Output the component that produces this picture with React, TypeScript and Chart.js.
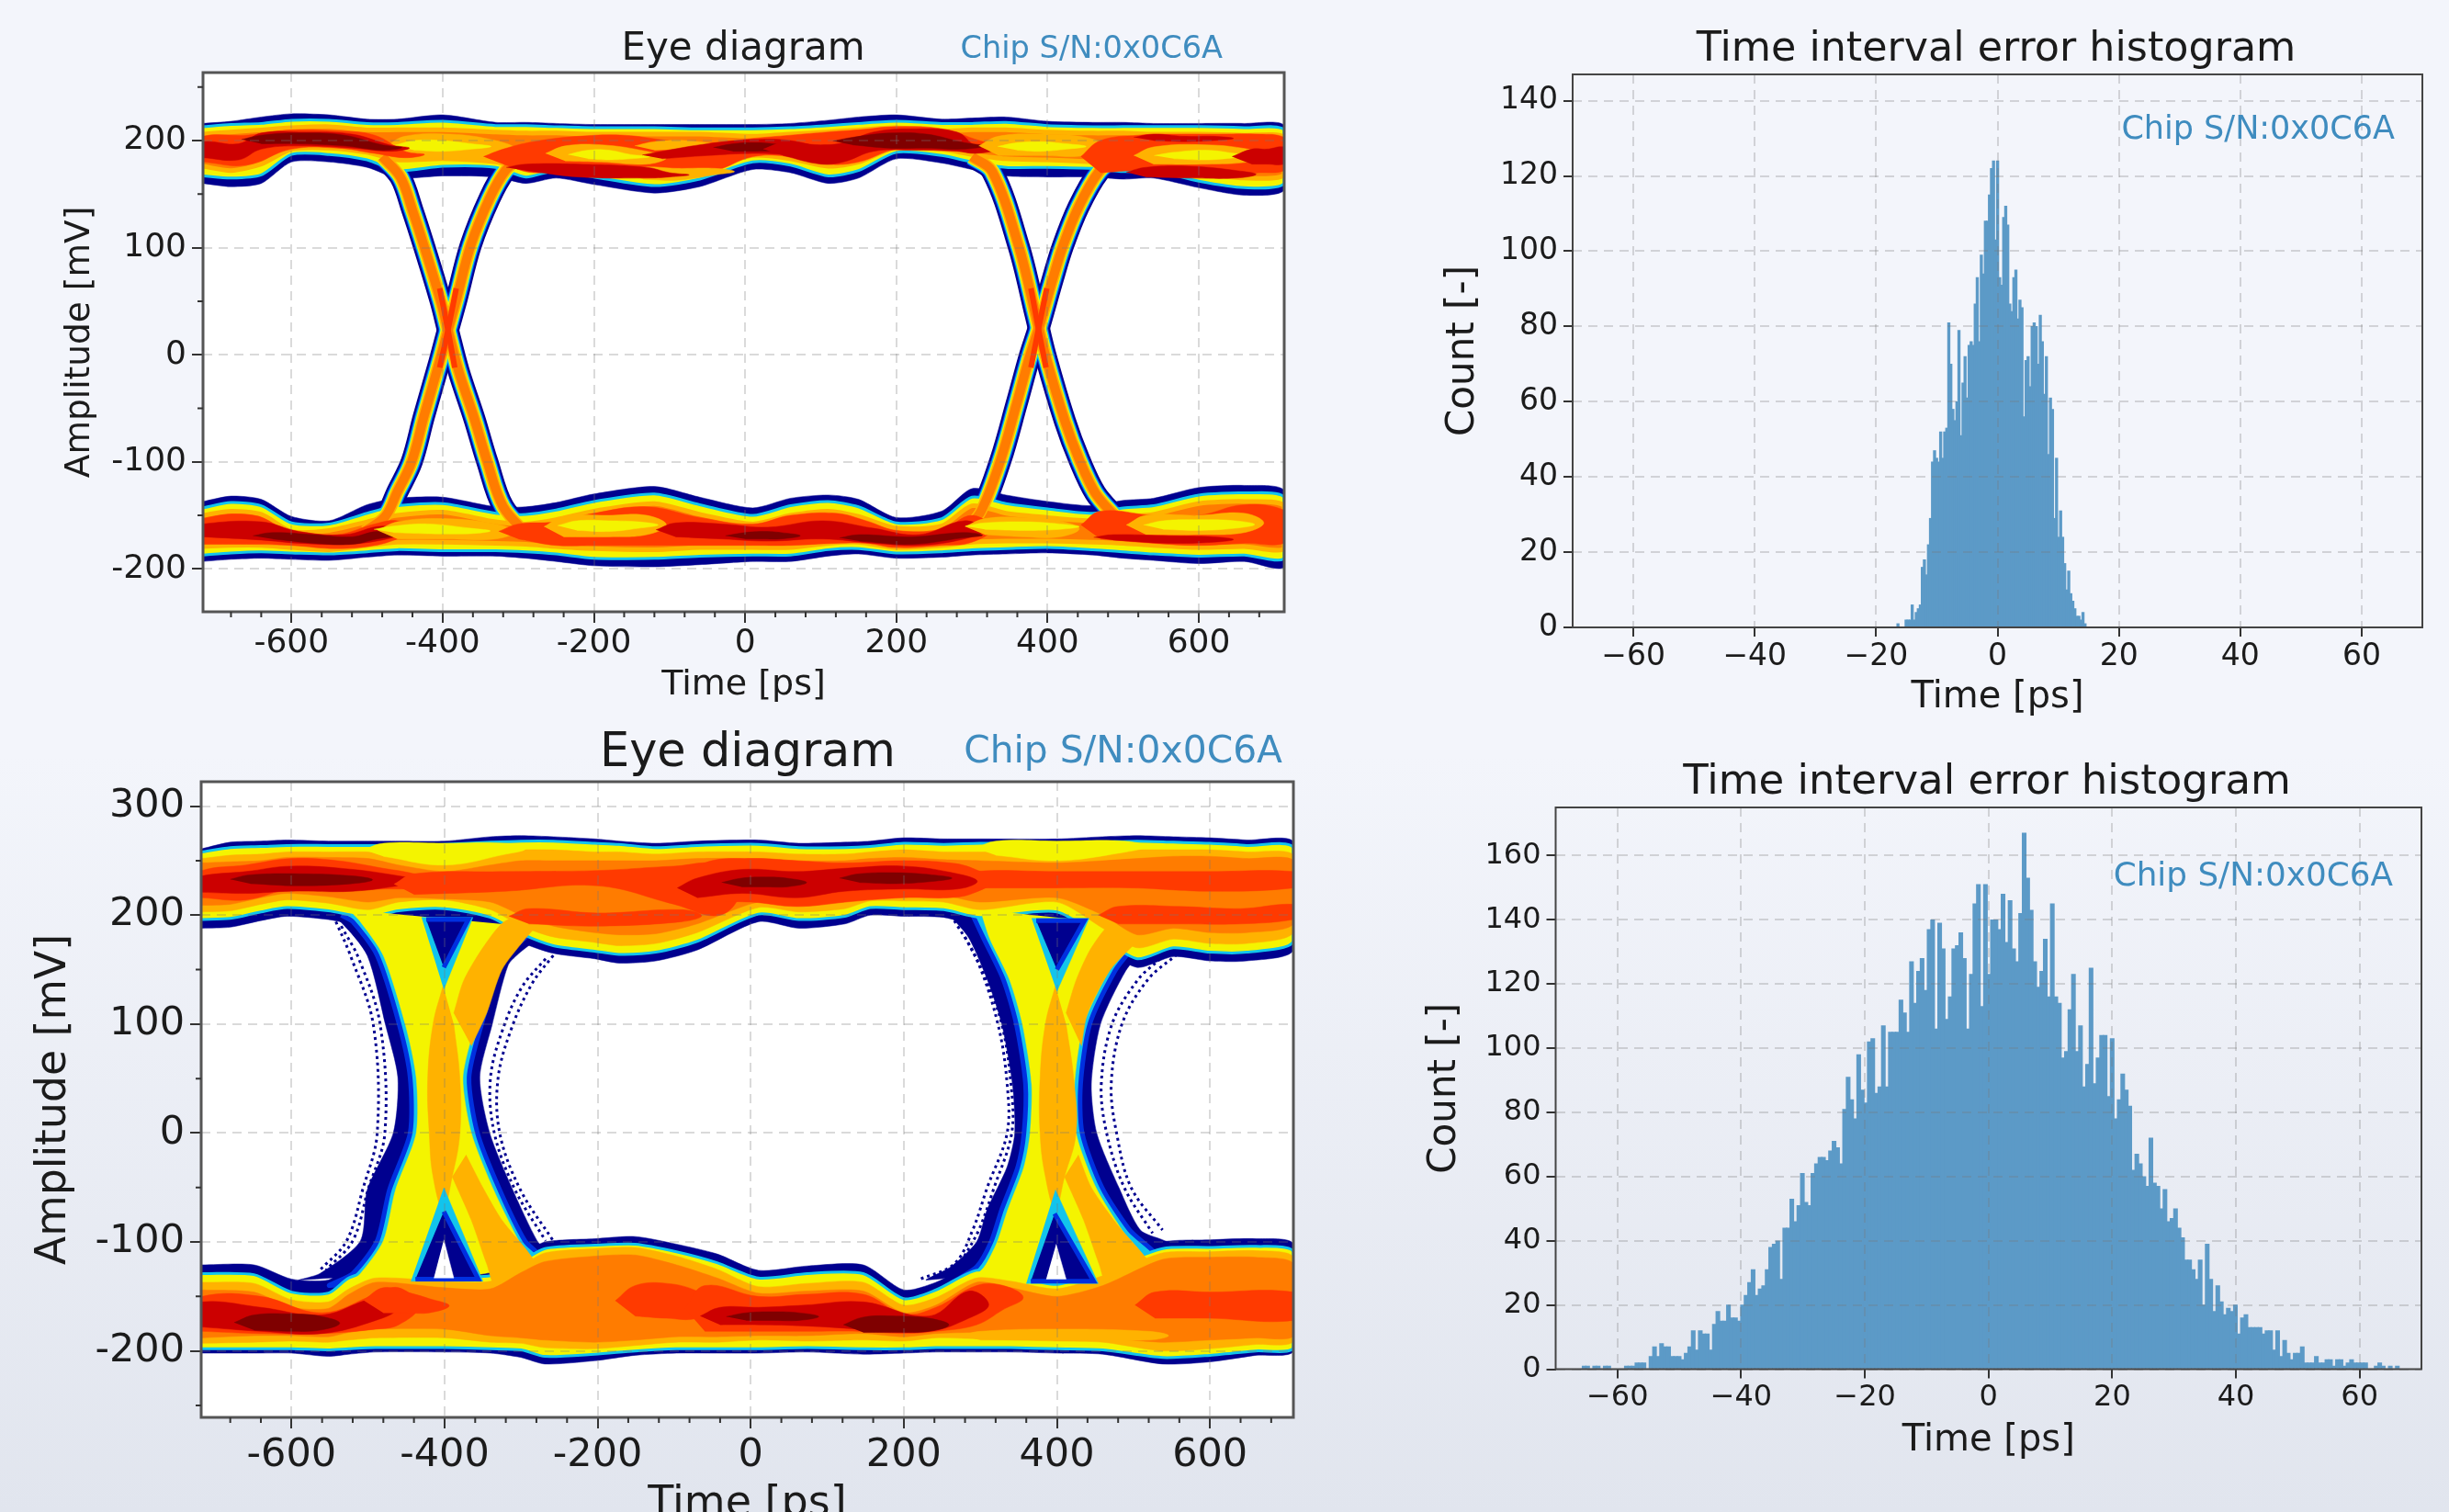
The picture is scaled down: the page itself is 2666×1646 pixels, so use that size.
import React, { useEffect, useRef } from "react";
import { Chart, registerables } from "chart.js";
Chart.register(...registerables);

const FONT = "'DejaVu Sans'";
const CHIP = "Chip S/N:0x0C6A";
const EYE_TITLE = "Eye diagram";
const HIST_TITLE = "Time interval error histogram";

const eyeXTicks = [-600, -400, -200, 0, 200, 400, 600];
const eye1YTicks = [-200, -100, 0, 100, 200];
const eye2YTicks = [-200, -100, 0, 100, 200, 300];
const hist1YTicks = [0, 20, 40, 60, 80, 100, 120, 140];
const hist2YTicks = [0, 20, 40, 60, 80, 100, 120, 140, 160];
const histXTicks = [-60, -40, -20, 0, 20, 40, 60];

const C: any = { navy: "#00008f", blue: "#0030e0", cyan: "#12c4ec", yellow: "#f4f400", amber: "#ffb200", orange: "#ff7c00", ro: "#ff3a00", red: "#cc0000", dark: "#7f0000", white: "#ffffff" };

// ---- Time interval error histograms (counts per bin)
const hist1Start = -16.4;
const hist1Width = 0.335;
const hist1Counts = [1,0,0,0,2,2,2,6,2,4,5,6,16,18,14,22,29,44,47,45,44,52,45,52,53,81,70,58,55,60,79,51,65,72,61,75,76,75,86,93,76,99,94,108,108,115,122,124,103,124,93,91,109,112,107,86,84,93,95,82,87,85,56,71,72,64,80,81,80,70,83,76,62,72,46,61,58,29,45,24,31,24,17,10,15,9,7,5,3,3,2,4,1];
const hist2Start = -65.4;
const hist2End = 66.1;
const hist2Counts = [1,1,0,1,1,0,1,1,0,0,0,0,1,1,1,2,2,2,0,4,7,4,8,7,7,4,4,4,3,5,7,12,6,12,11,11,6,14,18,15,15,20,16,16,15,20,23,27,31,23,25,26,31,38,39,40,28,44,44,53,46,51,61,52,51,61,64,66,66,65,68,71,69,64,81,91,84,78,98,87,83,102,103,86,88,107,88,105,105,105,115,111,105,127,114,124,128,118,137,140,106,139,131,109,116,131,132,136,128,106,123,145,151,113,151,123,140,140,137,148,133,146,131,127,142,167,153,143,127,119,124,134,116,145,116,114,97,99,112,123,99,107,88,95,125,89,97,104,104,85,103,78,84,92,87,82,62,67,64,60,57,72,58,57,50,56,46,47,50,44,41,34,34,31,28,34,20,39,28,18,26,21,17,19,18,20,11,16,17,13,13,13,13,11,12,12,6,12,4,9,5,3,5,5,7,2,2,2,4,2,2,3,3,1,3,3,1,2,3,2,2,2,2,0,0,1,2,1,0,1,0,1];

// ---- Eye 1: rail contours [mV] at the sampled times [ps]
const e1T = [-717,-680,-640,-600,-550,-500,-460,-400,-330,-290,-250,-200,-120,-60,10,60,110,150,200,260,300,345,400,460,500,540,600,660,713];
const e1TopNavyU = [216,218,222,225,224,220,220,224,217,217,216,215,215,215,215,216,219,222,224,220,221,222,218,217,217,216,216,216,214];
const e1TopNavyL = [160,157,160,180,180,175,165,167,166,160,165,159,151,157,173,170,160,165,183,179,173,167,166,166,164,165,156,149,154];
const e1TopYelU = [213,215,216,219,219,216,216,218,214,214,213,212,212,211,211,212,214,216,218,216,216,217,214,213,213,213,213,212,210];
const e1TopYelL = [167,165,168,187,187,182,172,176,175,166,172,166,158,164,180,177,167,172,189,186,180,175,175,174,171,172,162,156,160];
const e1TopOraU = [206,208,210,212,213,210,210,210,208,207,207,206,206,206,204,206,208,210,212,209,210,210,208,207,207,206,206,205,203];
const e1TopOraL = [176,172,178,192,193,189,182,183,180,174,178,174,167,172,186,183,176,180,194,192,187,183,182,180,178,178,170,165,168];
const e1BotNavyU = [-137,-132,-135,-151,-155,-140,-134,-133,-142,-142,-138,-130,-123,-133,-143,-134,-131,-135,-152,-146,-125,-131,-137,-141,-136,-134,-124,-122,-127];
const e1BotNavyL = [-193,-191,-190,-191,-192,-189,-187,-188,-188,-190,-193,-197,-198,-196,-193,-193,-188,-186,-190,-189,-187,-186,-185,-187,-190,-192,-195,-193,-198];
const e1BotYelU = [-143,-138,-141,-157,-158,-148,-141,-139,-148,-149,-145,-137,-130,-140,-150,-141,-137,-142,-157,-153,-133,-139,-144,-148,-143,-141,-131,-129,-133];
const e1BotYelL = [-187,-185,-184,-185,-186,-184,-182,-183,-183,-184,-186,-190,-190,-188,-187,-187,-182,-181,-185,-184,-182,-181,-180,-182,-184,-186,-188,-187,-190];
const e1BotOraU = [-150,-146,-149,-165,-164,-156,-150,-147,-156,-158,-154,-146,-139,-149,-158,-150,-146,-151,-162,-160,-141,-148,-152,-155,-151,-149,-139,-137,-141];
const e1BotOraL = [-179,-178,-178,-180,-182,-178,-175,-175,-176,-177,-179,-181,-182,-180,-180,-180,-176,-175,-180,-178,-175,-174,-174,-175,-176,-178,-180,-179,-181];

// Eye 1: centre lines [ps, mV] of the transition strands
const e1LeftFall = [[-480,185],[-456,166],[-440,135],[-424,100],[-403,51],[-393,23],[-379,-15],[-358,-60],[-341,-100],[-320,-142],[-285,-170]];
const e1LeftRise = [[-503,-165],[-476,-151],[-460,-128],[-441,-100],[-425,-58],[-404,-6],[-393,23],[-382,51],[-363,102],[-338,146],[-317,172],[-295,185]];
const e1RightFall = [[300,185],[327,171],[362,101],[384,38],[397,0],[423,-62],[442,-98],[463,-129],[487,-149],[510,-165]];
const e1RightRise = [[290,-165],[312,-146],[338,-98],[359,-46],[377,0],[388,24],[407,71],[420,101],[441,138],[468,171],[495,188]];
const e1CrossCores = [[[-404,62],[-393,23],[-384,-12]],[[-382,62],[-393,23],[-404,-12]],[[378,62],[388,24],[398,-12]],[[399,62],[388,24],[378,-12]]];

// Eye 1: density blobs: level, times, upper, lower
const e1Inner: any[] = [
 ["amber",[-450,-390,-330],[204,206,200],[184,184,184]],
 ["yellow",[-438,-400,-362],[200,200,197],[191,190,192]],
 ["ro",[-717,-660,-600,-540,-490,-450],[204,205,210,209,205,190],[180,177,192,193,188,184]],
 ["red",[-717,-670,-640,-590,-520,-470],[199,197,207,208,206,196],[184,182,192,195,193,190]],
 ["dark",[-640,-590,-530,-480],[205,207,205,196],[197,197,195,191]],
 ["ro",[-320,-280,-220,-160,-100,-40,10,60,110,150,200,260,310],[192,199,204,205,200,198,202,205,208,210,213,211,200],[178,170,174,167,170,172,185,185,178,180,192,193,190]],
 ["amber",[-238,-190,-130],[195,196,190],[181,180,178]],
 ["yellow",[-208,-180,-152],[191,191,187],[183,182,183]],
 ["amber",[-120,-80,-40],[199,200,197],[191,192,192]],
 ["amber",[-135,-90,-40],[175,174,174],[164,163,168]],
 ["red",[-290,-220,-130,-100],[178,178,175,170],[172,166,165,166]],
 ["red",[-110,-50,10,60,110],[190,197,201,200,192],[183,186,188,187,187]],
 ["dark",[-16,15,49],[197,198,196],[190,190,191]],
 ["red",[50,100,130,170,220,280,305],[198,196,198,208,211,208,195],[186,178,180,190,191,190,188]],
 ["dark",[142,190,240,290],[203,207,206,198],[196,193,193,192]],
 ["amber",[335,390,450],[204,206,203],[186,186,186]],
 ["yellow",[360,390,425],[198,199,197],[191,190,192]],
 ["ro",[470,520,570,620,680,713],[200,205,206,206,206,203],[170,172,170,168,170,172]],
 ["amber",[540,610,665],[194,196,192],[178,178,180]],
 ["yellow",[567,610,648],[189,191,188],[183,182,184]],
 ["red",[530,590,650],[175,176,172],[166,165,165]],
 ["red",[670,690,713],[192,192,194],[178,178,178]],
 ["red",[540,580,620],[206,204,204],[200,199,200]],
 ["ro",[-717,-650,-600,-540,-490,-460],[-153,-150,-165,-168,-158,-155],[-177,-177,-178,-181,-178,-172]],
 ["red",[-717,-640,-590,-530,-480],[-158,-156,-165,-168,-160],[-170,-173,-176,-177,-173]],
 ["dark",[-625,-570,-520,-487],[-166,-168,-170,-165],[-172,-176,-177,-172]],
 ["amber",[-460,-400,-330],[-156,-153,-158],[-172,-172,-172]],
 ["yellow",[-465,-420,-363],[-160,-158,-162],[-166,-167,-167]],
 ["ro",[-300,-250,-200,-130,-60,10,60,120,160,200,260,300],[-158,-156,-148,-142,-152,-158,-150,-148,-155,-164,-163,-150],[-172,-178,-178,-178,-178,-178,-178,-176,-176,-180,-178,-175]],
 ["amber",[-240,-180,-130],[-151,-150,-150],[-170,-170,-168]],
 ["yellow",[-222,-180,-141],[-155,-155,-156],[-164,-165,-162]],
 ["red",[-92,-30,30,103,170,230,290],[-157,-158,-161,-155,-162,-168,-155],[-170,-172,-174,-172,-176,-178,-172]],
 ["dark",[0,25,47],[-166,-165,-166],[-172,-172,-172]],
 ["dark",[151,220,288],[-168,-170,-166],[-174,-177,-171]],
 ["amber",[317,370,416],[-153,-152,-155],[-168,-170,-170]],
 ["yellow",[317,370,416],[-157,-156,-158],[-163,-164,-163]],
 ["ro",[470,540,600,660,713],[-146,-150,-150,-140,-145],[-172,-176,-178,-176,-176]],
 ["amber",[530,600,660],[-150,-150,-148],[-168,-168,-166]],
 ["yellow",[553,600,648],[-155,-154,-155],[-163,-164,-162]],
 ["red",[487,560,620],[-168,-169,-170],[-173,-176,-175]],
];

// ---- Eye 2: rail contours
const e2TopT = [-717,-680,-640,-606,-552,-500,-460,-400,-340,-300,-258,-204,-172,-124,-70,10,63,123,156,200,252,300,400,460,505,552,600,648,709];
const e2TopNavyU = [261,267,268,269,268,268,268,268,272,273,272,270,268,266,268,269,266,267,268,271,270,270,270,272,273,272,271,269,267];
const e2TopNavyL = [188,189,195,199,196,190,196,198,190,175,165,160,156,158,168,194,188,192,200,199,198,190,195,170,152,162,158,158,168];
const e2TopYelU = [258,262,263,264,264,264,264,265,267,268,268,266,265,262,264,265,262,262,263,266,265,266,266,267,268,267,266,264,262];
const e2TopYelL = [196,197,203,207,204,198,204,206,198,183,172,167,164,166,176,201,196,199,207,206,205,198,203,178,160,170,166,166,176];
const e2TopAmbU = [252,255,256,258,258,258,256,256,258,260,260,258,258,256,258,258,256,256,258,260,258,258,258,260,260,260,260,258,255];
const e2TopAmbL = [203,204,210,214,211,205,212,214,205,190,180,175,172,174,184,207,203,206,213,213,212,205,212,188,170,178,174,174,184];
const e2TopOraU = [248,249,250,253,253,252,246,240,246,250,250,250,250,250,252,252,250,250,252,253,251,250,248,250,252,254,254,252,250];
const e2TopOraL = [209,210,216,220,217,212,216,215,212,200,190,184,182,183,192,212,208,212,218,218,218,212,216,200,182,188,184,184,192];
const e2BotT = [-717,-649,-600,-552,-525,-490,-400,-340,-300,-269,-204,-151,-97,-44,10,74,147,200,242,295,340,400,460,538,600,660,709];
const e2BotNavyU = [-121,-121,-134,-135,-123,-120,-125,-125,-112,-100,-97,-95,-102,-111,-126,-122,-121,-144,-137,-120,-125,-133,-120,-100,-98,-97,-102];
const e2BotNavyL = [-202,-202,-202,-205,-203,-201,-201,-202,-206,-212,-209,-204,-202,-202,-202,-201,-203,-202,-201,-201,-201,-202,-203,-212,-210,-204,-200];
const e2BotYelU = [-129,-130,-146,-147,-133,-127,-131,-131,-118,-106,-103,-102,-109,-119,-133,-129,-129,-152,-144,-126,-131,-139,-126,-106,-105,-104,-109];
const e2BotYelL = [-198,-198,-198,-199,-198,-197,-197,-198,-199,-205,-203,-200,-198,-198,-198,-197,-198,-198,-197,-197,-197,-198,-199,-206,-204,-200,-197];
const e2BotAmbU = [-137,-138,-153,-155,-143,-133,-136,-136,-122,-110,-106,-105,-113,-125,-141,-138,-137,-158,-151,-133,-136,-143,-131,-110,-109,-108,-114];
const e2BotAmbL = [-193,-192,-191,-192,-190,-188,-188,-192,-193,-197,-198,-195,-192,-192,-190,-191,-190,-191,-188,-189,-190,-191,-192,-200,-198,-194,-191];
const e2BotOraU = [-144,-146,-160,-161,-148,-137,-142,-143,-128,-118,-113,-112,-121,-133,-147,-145,-145,-165,-158,-137,-142,-150,-140,-116,-114,-114,-120];
const e2BotOraL = [-188,-186,-186,-187,-183,-180,-180,-186,-188,-190,-192,-190,-187,-187,-186,-186,-184,-187,-184,-183,-184,-186,-188,-192,-190,-188,-186];

// Eye 2: hourglass contours at the two crossings
const e2RNavy = [[260,200],[285,179],[309,141],[328,100],[342,45],[345,0],[335,-31],[309,-70],[295,-100],[261,-123],[230,-135],[560,-105],[538,-98],[509,-89],[481,-50],[452,0],[445,45],[457,100],[490,149],[514,168],[540,180]];
const e2RCyan = [[290,200],[304,179],[330,141],[347,100],[359,45],[357,0],[349,-31],[328,-70],[314,-100],[295,-123],[260,-140],[530,-115],[495,-89],[459,-50],[433,0],[431,45],[443,100],[476,149],[497,168],[520,185]];
const e2RYellow = [[300,205],[312,179],[338,141],[355,100],[367,45],[365,0],[357,-31],[336,-70],[322,-100],[305,-123],[275,-145],[515,-120],[485,-89],[451,-50],[425,0],[423,45],[435,100],[468,149],[489,168],[510,190]];
const e2RAmber = [[398,135],[385,100],[378,50],[378,0],[385,-40],[398,-70],[410,-40],[425,0],[422,50],[412,100]];
const e2RAmberUp = [[412,110],[425,140],[445,170],[475,195],[530,200],[510,180],[470,150],[440,110],[432,80]];
const e2RAmberDown = [[410,-40],[435,-80],[455,-120],[470,-145],[540,-145],[520,-118],[480,-85],[445,-50],[428,-20]];
const e2LNavy = [[-555,200],[-536,194],[-501,163],[-477,99],[-461,51],[-467,0],[-501,-52],[-510,-99],[-563,-129],[-590,-135],[-260,-115],[-279,-99],[-311,-52],[-341,0],[-354,51],[-338,99],[-317,154],[-301,166],[-275,180]];
const e2LCyan = [[-535,200],[-520,194],[-488,163],[-459,99],[-445,51],[-445,0],[-472,-52],[-488,-99],[-520,-129],[-550,-140],[-275,-115],[-295,-99],[-328,-52],[-357,0],[-368,51],[-352,99],[-327,154],[-310,170],[-285,185]];
const e2LYellow = [[-525,205],[-510,194],[-480,163],[-451,99],[-437,51],[-437,0],[-464,-52],[-480,-99],[-510,-129],[-535,-145],[-285,-120],[-303,-99],[-336,-52],[-365,0],[-376,51],[-360,99],[-335,154],[-318,175],[-295,190]];
const e2LAmber = [[-402,135],[-415,100],[-422,50],[-420,0],[-415,-40],[-402,-70],[-390,-40],[-380,0],[-380,50],[-388,100]];
const e2LAmberUp = [[-388,110],[-375,140],[-350,170],[-320,195],[-270,200],[-295,178],[-325,150],[-345,110],[-365,80]];
const e2LAmberDown = [[-390,-40],[-365,-80],[-345,-120],[-330,-145],[-270,-135],[-290,-110],[-325,-80],[-350,-50],[-372,-20]];
const e2Triangles: any[] = [
 ["cyan",[[-430,198],[-363,198],[-401,132]]],
 ["navy",[[-424,196],[-369,196],[-401,152]]],
 ["cyan",[[-444,-136],[-350,-136],[-401,-50]]],
 ["navy",[[-438,-134],[-356,-134],[-401,-72]]],
 ["white",[[-414,-133],[-388,-133],[-401,-98]]],
 ["cyan",[[367,197],[442,197],[400,130]]],
 ["navy",[[373,195],[436,195],[400,150]]],
 ["cyan",[[360,-138],[454,-138],[398,-52]]],
 ["navy",[[366,-136],[448,-136],[397,-74]]],
 ["white",[[386,-134],[412,-134],[399,-102]]],
];
const e2Traces = [
 [[266,195],[295,160],[323,100],[335,45],[335,0],[309,-50],[290,-89],[266,-120],[218,-135]],
 [[280,180],[305,145],[328,100],[340,45],[341,0],[318,-50],[298,-89],[275,-118]],
 [[557,164],[519,141],[485,100],[471,45],[478,0],[497,-50],[538,-89]],
 [[535,160],[505,140],[472,100],[458,45],[465,0],[488,-50],[525,-92]],
 [[-542,194],[-523,163],[-493,99],[-488,0],[-507,-52],[-528,-99],[-563,-126]],
 [[-535,190],[-512,160],[-484,99],[-478,0],[-500,-52],[-520,-99],[-555,-126]],
 [[-258,163],[-285,138],[-311,99],[-330,51],[-328,0],[-301,-52],[-258,-99]],
 [[-268,160],[-298,135],[-322,99],[-340,51],[-335,0],[-308,-52],[-268,-99]],
];
const e2Inner: any[] = [
 ["yellow",[-480,-400,-320],[266,266,266],[254,246,256]],
 ["yellow",[320,400,490],[268,268,268],[255,250,258]],
 ["ro",[-717,-660,-600,-540,-480,-440],[241,246,252,250,243,238],[216,214,224,222,224,225]],
 ["red",[-717,-660,-600,-520,-450],[236,240,245,242,235],[221,220,222,222,228]],
 ["dark",[-654,-590,-520],[237,238,236],[229,227,229]],
 ["ro",[-440,-320,-200,-100,-40],[238,240,241,245,246],[219,222,227,210,200]],
 ["ro",[-290,-200,-90],[206,202,205],[192,190,194]],
 ["ro",[-60,0,60,123,200,260,290],[248,252,250,248,250,248,243],[212,212,208,212,216,216,220]],
 ["ro",[290,400,500,600,709],[240,240,240,240,240],[225,225,225,222,225]],
 ["red",[-70,-10,60,123,200,270],[234,242,240,243,245,238],[216,220,216,222,224,224]],
 ["dark",[-12,20,47],[234,235,234],[226,226,226]],
 ["dark",[142,190,237],[238,239,237],[230,229,231]],
 ["ro",[480,560,640,709],[208,208,206,210],[192,192,192,196]],
 ["ro",[-717,-640,-560,-490,-460],[-150,-150,-165,-148,-142],[-182,-184,-184,-180,-176]],
 ["red",[-717,-640,-560,-490],[-155,-160,-167,-152],[-178,-182,-184,-172]],
 ["dark",[-649,-600,-563],[-167,-166,-168],[-181,-182,-181]],
 ["ro",[-151,-110,-70],[-140,-138,-145],[-168,-170,-170]],
 ["ro",[-480,-450,-420],[-142,-146,-152],[-165,-165,-165]],
 ["ro",[-60,10,74,147,200,242,295,330],[-140,-150,-148,-148,-166,-160,-140,-140],[-182,-182,-182,-182,-184,-182,-176,-162]],
 ["red",[-40,10,70,147,233,285],[-160,-160,-158,-155,-168,-145],[-176,-176,-177,-180,-182,-170]],
 ["dark",[-6,30,63],[-165,-164,-165],[-172,-172,-172]],
 ["dark",[147,190,233],[-169,-168,-170],[-183,-183,-182]],
 ["ro",[528,600,709],[-146,-146,-146],[-170,-170,-172]],
 ["amber",[300,400,520],[-182,-180,-182],[-190,-190,-190]],
];

// ---- dataset helpers
const region = (pts: number[][], color: string, rim?: string, rimW = 0, tension = 0.25) => ({
  type: "scatter", showLine: true, data: pts.map(([x, y]) => ({ x, y })), fill: "shape",
  backgroundColor: color, borderColor: rim || color, borderWidth: rim ? rimW : 0.5, pointRadius: 0, tension,
});
const band = (ts: number[], up: number[], lo: number[], color: string, rim?: string, rimW = 0) => {
  const pts = ts.map((t, i) => [t, up[i]]).concat(ts.map((t, i) => [t, lo[i]]).reverse());
  return region(pts, color, rim, rimW);
};
// a density blob: closes on pointed ends, so that it has no vertical edges inside the plot
const blob = (ts: number[], up: number[], lo: number[], color: string) => {
  const n = ts.length - 1;
  const pts = [[ts[0] - 26, (up[0] + lo[0]) / 2]]
    .concat(ts.map((t, i) => [t, up[i]]))
    .concat([[ts[n] + 26, (up[n] + lo[n]) / 2]])
    .concat(ts.map((t, i) => [t, lo[i]]).reverse());
  return region(pts, color, undefined, 0, 0.4);
};
const stroke = (pts: number[][], color: string, width: number, dash?: number[]) => ({
  type: "scatter", showLine: true, data: pts.map(([x, y]) => ({ x, y })), fill: false,
  borderColor: color, backgroundColor: color, borderWidth: width, pointRadius: 0, tension: 0.35, borderDash: dash || [],
});

function eye1Layers() {
  const strands = [e1LeftFall, e1LeftRise, e1RightFall, e1RightRise];
  return [
    band(e1T, e1TopNavyU, e1TopNavyL, C.navy),
    band(e1T, e1BotNavyU, e1BotNavyL, C.navy),
    ...strands.map((s) => stroke(s, C.navy, 24)),
    ...strands.map((s) => stroke(s, C.blue, 20)),
    ...strands.map((s) => stroke(s, C.cyan, 18)),
    band(e1T, e1TopYelU, e1TopYelL, C.yellow, C.cyan, 3),
    band(e1T, e1BotYelU, e1BotYelL, C.yellow, C.cyan, 3),
    ...strands.map((s) => stroke(s, C.yellow, 15.5)),
    band(e1T, e1TopOraU, e1TopOraL, C.orange, C.amber, 5),
    band(e1T, e1BotOraU, e1BotOraL, C.orange, C.amber, 5),
    ...strands.map((s) => stroke(s, C.amber, 13)),
    ...strands.map((s) => stroke(s, C.orange, 10)),
    ...e1CrossCores.map((s) => stroke(s, C.ro, 6)),
    ...e1Inner.map(([lv, t, u, l]) => blob(t, u, l, C[lv])),
  ];
}
function eye2Layers() {
  return [
    ...e2Traces.map((s) => stroke(s, C.navy, 3, [3, 4])),
    band(e2TopT, e2TopNavyU, e2TopNavyL, C.navy),
    band(e2BotT, e2BotNavyU, e2BotNavyL, C.navy),
    region(e2RNavy, C.navy), region(e2LNavy, C.navy),
    region(e2RCyan, C.cyan, C.blue, 5), region(e2LCyan, C.cyan, C.blue, 5),
    band(e2TopT, e2TopYelU, e2TopYelL, C.yellow, C.cyan, 3),
    band(e2BotT, e2BotYelU, e2BotYelL, C.yellow, C.cyan, 3),
    region(e2RYellow, C.yellow), region(e2LYellow, C.yellow),
    band(e2TopT, e2TopAmbU, e2TopAmbL, C.amber),
    band(e2BotT, e2BotAmbU, e2BotAmbL, C.amber),
    region(e2RAmber, C.amber, undefined, 0, 0.4), region(e2LAmber, C.amber, undefined, 0, 0.4),
    region(e2RAmberUp, C.amber), region(e2RAmberDown, C.amber),
    region(e2LAmberUp, C.amber), region(e2LAmberDown, C.amber),
    band(e2TopT, e2TopOraU, e2TopOraL, C.orange),
    band(e2BotT, e2BotOraU, e2BotOraL, C.orange),
    ...e2Inner.map(([lv, t, u, l]) => blob(t, u, l, C[lv])),
    ...e2Triangles.map(([lv, p]) => region(p, C[lv], lv === "navy" ? C.blue : undefined, 5, 0)),
  ];
}

// ---- shared chart options
const TEXT = "#1b1b1b";
const GRID = "rgba(120,120,120,0.27)";

function framePlugin(cfg: any) {
  return {
    id: "frame",
    beforeDraw(chart: any) {
      if (!cfg.white) return;
      const { ctx, chartArea: a } = chart;
      ctx.save(); ctx.fillStyle = "#ffffff"; ctx.fillRect(a.left, a.top, a.right - a.left, a.bottom - a.top); ctx.restore();
    },
    afterDraw(chart: any) {
      const { ctx, chartArea: a, scales } = chart;
      ctx.save();
      ctx.strokeStyle = cfg.spine; ctx.lineWidth = cfg.spineW;
      ctx.strokeRect(a.left, a.top, a.right - a.left, a.bottom - a.top);
      ctx.strokeStyle = "#333"; ctx.lineWidth = 2; ctx.beginPath();
      (cfg.minorX || []).forEach((v: number) => { const p = scales.x.getPixelForValue(v); ctx.moveTo(p, a.bottom); ctx.lineTo(p, a.bottom + cfg.minorLen); });
      (cfg.minorY || []).forEach((v: number) => { const p = scales.y.getPixelForValue(v); ctx.moveTo(a.left, p); ctx.lineTo(a.left - cfg.minorLen, p); });
      ctx.stroke();
      ctx.fillStyle = "#3f8cbf"; ctx.font = `${cfg.chipSize}px ${FONT}`; ctx.textAlign = "right"; ctx.textBaseline = "middle";
      ctx.fillText(CHIP, cfg.chipRight, cfg.chipY);
      ctx.restore();
    },
  };
}

function axis(o: any) {
  return {
    type: "linear", min: o.min, max: o.max, offset: false,
    afterBuildTicks: (s: any) => { s.ticks = o.ticks.map((value: number) => ({ value })); },
    afterFit: (s: any) => { if (o.width !== undefined) s.width = o.width; if (o.height !== undefined) s.height = o.height; },
    title: { display: true, text: o.title, color: TEXT, font: { family: FONT, size: o.titleSize }, padding: o.titlePad },
    ticks: { autoSkip: false, maxRotation: 0, color: TEXT, font: { family: FONT, size: o.tickSize }, padding: o.tickPad, callback: o.label },
    grid: { offset: false, color: GRID, lineWidth: 2, z: 1, tickColor: "#333", tickWidth: 2, tickLength: o.tickLen, drawTicks: true },
    border: { display: false, dash: [10, 7] },
  };
}
// empty axis on the right: keeps the plot's right edge where it belongs while the title stays centred on the canvas
const spacer = (width: number) => ({
  type: "linear", position: "right", min: 0, max: 1, display: true,
  afterFit: (s: any) => { s.width = width; },
  ticks: { display: false }, grid: { display: false }, border: { display: false },
});
const plain = (v: any) => String(v);
const minus = (v: any) => String(v).replace("-", "\u2212");

function makeEye(canvas: HTMLCanvasElement, g: any) {
  return new Chart(canvas, {
    type: "scatter",
    data: { datasets: g.layers.slice().reverse() },
    options: {
      animation: false, responsive: false, events: [],
      plugins: {
        legend: { display: false }, tooltip: { enabled: false },
        title: { display: true, text: EYE_TITLE, color: TEXT, font: { family: FONT, size: g.titleSize, weight: "normal" }, padding: g.titlePad },
      },
      scales: {
        x: axis({ min: g.xMin, max: g.xMax, ticks: eyeXTicks, title: "Time [ps]", titleSize: g.xTitleSize, titlePad: g.xTitlePad, tickSize: g.tickSize, tickPad: g.xTickPad, tickLen: 12, height: g.xHeight, label: plain }),
        y: axis({ min: g.yMin, max: g.yMax, ticks: g.yTicks, title: "Amplitude [mV]", titleSize: g.yTitleSize, titlePad: g.yTitlePad, tickSize: g.tickSize, tickPad: g.yTickPad, tickLen: 12, width: g.yWidth, label: plain }),
        rightSpace: spacer(g.padRight),
      },
    } as any,
    plugins: [framePlugin(g.frame)],
  } as any);
}

function makeHist(canvas: HTMLCanvasElement, g: any) {
  return new Chart(canvas, {
    type: "bar",
    data: { datasets: [{ data: g.counts.map((y: number, i: number) => ({ x: g.start + i * g.width, y })), backgroundColor: "#5c9ac7", borderWidth: 0, barThickness: g.barPx, grouped: false } as any] },
    options: {
      animation: false, responsive: false, events: [],
      plugins: {
        legend: { display: false }, tooltip: { enabled: false },
        title: { display: true, text: HIST_TITLE, color: TEXT, font: { family: FONT, size: g.titleSize, weight: "normal" }, padding: g.titlePad },
      },
      scales: {
        x: axis({ min: -70, max: 70, ticks: histXTicks, title: "Time [ps]", titleSize: g.xTitleSize, titlePad: g.xTitlePad, tickSize: g.tickSize, tickPad: g.xTickPad, tickLen: 10, height: g.xHeight, label: minus }),
        y: axis({ min: 0, max: g.yMax, ticks: g.yTicks, title: "Count [-]", titleSize: g.yTitleSize, titlePad: g.yTitlePad, tickSize: g.tickSize, tickPad: g.yTickPad, tickLen: 10, width: g.yWidth, label: plain }),
        rightSpace: spacer(g.padRight),
      },
    } as any,
    plugins: [framePlugin(g.frame)],
  } as any);
}

const eyeMinorX: number[] = [];
for (let v = -720; v <= 720; v += 40) if (v % 200 !== 0) eyeMinorX.push(v);
const e1MinorX = eyeMinorX.filter((v) => v > -717 && v < 713);
const e2MinorX = eyeMinorX.filter((v) => v > -718 && v < 709);
const e1MinorY = [250, 150, 50, -50, -150];
const e2MinorY = [250, 150, 50, -50, -150, -250];

const box = (left: number, top: number): any => ({ position: "absolute", left, top });

export default function App() {
  const r1 = useRef<HTMLCanvasElement>(null);
  const r2 = useRef<HTMLCanvasElement>(null);
  const r3 = useRef<HTMLCanvasElement>(null);
  const r4 = useRef<HTMLCanvasElement>(null);
  useEffect(() => {
    const charts = [
      makeEye(r1.current!, {
        layers: eye1Layers(), xMin: -717, xMax: 713, yMin: -240, yMax: 263.5, yTicks: eye1YTicks,
        padRight: 220, yWidth: 221, xHeight: 124, titleSize: 42, titlePad: { top: 28.6, bottom: 0 },
        xTitleSize: 38, xTitlePad: { top: 0, bottom: 21 }, yTitleSize: 37.5, yTitlePad: { top: 65, bottom: 0 },
        tickSize: 36, xTickPad: 1, yTickPad: 6,
        frame: { white: true, spine: "#555", spineW: 3, minorX: e1MinorX, minorY: e1MinorY, minorLen: 6, chipSize: 33.6, chipRight: 1331, chipY: 54 },
      }),
      makeEye(r2.current!, {
        layers: eye2Layers(), xMin: -718, xMax: 709, yMin: -261, yMax: 322.5, yTicks: eye2YTicks,
        padRight: 220, yWidth: 219, xHeight: 147, titleSize: 51, titlePad: { top: 19.8, bottom: 0 },
        xTitleSize: 46, xTitlePad: { top: 0, bottom: 24 }, yTitleSize: 45.7, yTitlePad: { top: 32, bottom: 0 },
        tickSize: 43, xTickPad: 4, yTickPad: 6,
        frame: { white: true, spine: "#555", spineW: 3, minorX: e2MinorX, minorY: e2MinorY, minorLen: 6, chipSize: 40.8, chipRight: 1396, chipY: 49 },
      }),
      makeHist(r3.current!, {
        counts: hist1Counts, start: hist1Start, width: hist1Width, barPx: 2.7, yMax: 147, yTicks: hist1YTicks,
        padRight: 209, yWidth: 212, xHeight: 117, titleSize: 44.4, titlePad: { top: 27.7, bottom: 0 },
        xTitleSize: 40, xTitlePad: { top: 0, bottom: 16 }, yTitleSize: 42, yTitlePad: { top: 68, bottom: 0 },
        tickSize: 33, xTickPad: 3, yTickPad: 6,
        frame: { white: false, spine: "#444", spineW: 2, minorLen: 0, chipSize: 35, chipRight: 1107, chipY: 142 },
      }),
      makeHist(r4.current!, {
        counts: hist2Counts, start: hist2Start, width: (hist2End - hist2Start) / (hist2Counts.length - 1), barPx: 4.4, yMax: 175, yTicks: hist2YTicks,
        padRight: 190, yWidth: 193.5, xHeight: 155.5, titleSize: 45, titlePad: { top: 55, bottom: 0 },
        xTitleSize: 40, xTitlePad: { top: 0, bottom: 53 }, yTitleSize: 42, yTitlePad: { top: 48, bottom: 0 },
        tickSize: 32, xTickPad: 2, yTickPad: 6,
        frame: { white: false, spine: "#444", spineW: 2, minorLen: 0, chipSize: 35.8, chipRight: 1105, chipY: 185 },
      }),
    ];
    return () => charts.forEach((c) => c.destroy());
  }, []);
  return (
    <div style={{ position: "fixed", left: 0, top: 0, width: 2666, height: 1646, overflow: "hidden", background: "linear-gradient(180deg,#f3f5fb 0%,#f3f5fb 50%,#e1e5ee 100%)" }}>
      <canvas ref={r1} width={1618} height={790} style={box(0, 0)} />
      <canvas ref={r2} width={1628} height={920} style={box(0, 770)} />
      <canvas ref={r3} width={1346} height={800} style={box(1500, 0)} />
      <canvas ref={r4} width={1326} height={876} style={box(1500, 770)} />
    </div>
  );
}
